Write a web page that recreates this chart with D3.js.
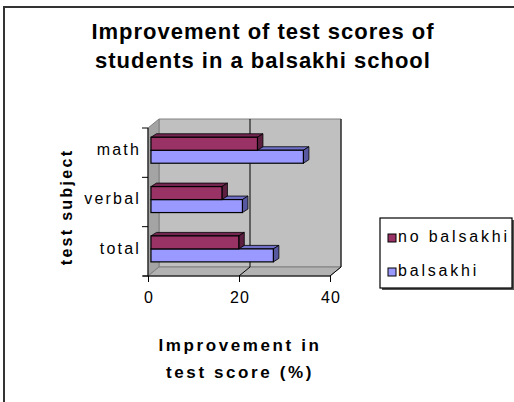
<!DOCTYPE html>
<html>
<head>
<meta charset="utf-8">
<script src="https://cdn.jsdelivr.net/npm/d3@7"></script>
<style>
  body { margin: 0; background: #fff; }
  svg { display: block; font-family: "Liberation Sans", Arial, sans-serif; }
</style>
</head>
<body>
<script>
// data
var categories = ["math", "verbal", "total"];
var seriesNames = ["no balsakhi", "balsakhi"];
var noBalsakhi = [23.4, 15.6, 19.3];
var balsakhi = [33.5, 20.1, 26.9];
var xTicks = [0, 20, 40];
var titleLines = ["Improvement of test scores of", "students in a balsakhi school"];
var xTitleLines = ["Improvement in", "test score (%)"];
var yTitle = "test subject";

var colors = {
  "no balsakhi": { front: "#993366", top: "#732650", side: "#5c1f40" },
  "balsakhi":    { front: "#9999ff", top: "#7070c8", side: "#5858a0" }
};

var W = 514, H = 402;
var svg = d3.select("body").append("svg").attr("width", W).attr("height", H);

// 外枠 (右と下は画面外)
svg.append("rect")
  .attr("x", 4).attr("y", 7).attr("width", 530).attr("height", 420)
  .attr("fill", "none").attr("stroke", "#333").attr("stroke-width", 2);

// scales (front plane)
var x = d3.scaleLinear().domain([0, 40]).range([148, 330]);
var y0 = d3.scaleBand().domain(categories).range([128, 276]);
var y1 = d3.scaleBand().domain(seriesNames).range([0, y0.bandwidth()]).paddingOuter(0.9);

// depth of the 3D box
var DX = 11, DY = -9;

function pts(a){ return a.map(function(p){ return p.join(","); }).join(" "); }

var xl = x(0), xr = x(40), yt = y0.range()[0], yb = y0.range()[1];

// back wall
svg.append("polygon")
  .attr("points", pts([[xl+DX, yt+DY], [xr+DX, yt+DY], [xr+DX, yb+DY], [xl+DX, yb+DY]]))
  .attr("fill", "#c0c0c0").attr("stroke", "#808080");
// left wall
svg.append("polygon")
  .attr("points", pts([[xl, yt], [xl+DX, yt+DY], [xl+DX, yb+DY], [xl, yb]]))
  .attr("fill", "#a4a4a4").attr("stroke", "#808080");
// floor
svg.append("polygon")
  .attr("points", pts([[xl, yb], [xl+DX, yb+DY], [xr+DX, yb+DY], [xr, yb]]))
  .attr("fill", "#b2b2b2").attr("stroke", "#808080");

// gridlines on back wall + floor
xTicks.forEach(function(t){
  if(t === 0) return;
  svg.append("polyline")
    .attr("points", pts([[x(t)+DX, yt+DY], [x(t)+DX, yb+DY], [x(t), yb]]))
    .attr("fill", "none").attr("stroke", "#000").attr("stroke-width", 1);
});

// bars (青を先に描いて、えんじ色の前面で上面を隠す)
var f0 = 0.27, bdx = 5.5, bdy = -3.5;
categories.forEach(function(c, ci){
  var vals = { "no balsakhi": noBalsakhi[ci], "balsakhi": balsakhi[ci] };
  ["balsakhi", "no balsakhi"].forEach(function(s){
    var v = vals[s];
    var xa = x(0) + f0*DX, xb = x(v) + f0*DX;
    var ya = y0(c) + y1(s) + f0*DY, h = y1.bandwidth();
    var g = svg.append("g").attr("class", "bar");
    g.append("polygon")
      .attr("points", pts([[xa, ya], [xb, ya], [xb+bdx, ya+bdy], [xa+bdx, ya+bdy]]))
      .attr("fill", colors[s].top).attr("stroke", "#000").attr("stroke-width", 0.8);
    g.append("polygon")
      .attr("points", pts([[xb, ya], [xb+bdx, ya+bdy], [xb+bdx, ya+h+bdy], [xb, ya+h]]))
      .attr("fill", colors[s].side).attr("stroke", "#000").attr("stroke-width", 0.8);
    g.append("rect")
      .attr("x", xa).attr("y", ya).attr("width", xb - xa).attr("height", h)
      .attr("fill", colors[s].front).attr("stroke", "#000").attr("stroke-width", 1.2);
  });
});

// x axis
var xAxis = svg.append("g").attr("transform", "translate(0," + yb + ")")
  .call(d3.axisBottom(x).tickValues(xTicks).tickSize(6).tickPadding(10).tickFormat(d3.format("d")));
xAxis.select(".domain").attr("stroke", "#000").attr("d", "M" + (xl-5) + ",0H" + xr);
xAxis.selectAll(".tick line").attr("stroke", "#000");
xAxis.selectAll("text").attr("font-size", 16).attr("fill", "#000")
  .attr("letter-spacing", 1).attr("dx", 0.5)
  .attr("font-family", "'Liberation Sans', Arial, sans-serif");

// y axis
svg.append("line").attr("x1", xl).attr("x2", xl).attr("y1", yt).attr("y2", yb).attr("stroke", "#000");
var bounds = categories.map(function(c){ return y0(c); }).concat([yb]);
bounds.forEach(function(b){
  svg.append("line").attr("x1", xl - 6).attr("x2", xl).attr("y1", b).attr("y2", b).attr("stroke", "#000");
});
categories.forEach(function(c){
  svg.append("text")
    .attr("x", 141).attr("y", y0(c) + y0.bandwidth()/2 - 2)
    .attr("text-anchor", "end").attr("dominant-baseline", "middle")
    .attr("font-size", 16).attr("letter-spacing", 2.2)
    .attr("fill", "#000").text(c);
});

// titles
titleLines.forEach(function(t, i){
  svg.append("text")
    .attr("x", 263).attr("y", 39 + i*29)
    .attr("text-anchor", "middle").attr("font-size", 22).attr("font-weight", "bold")
    .attr("letter-spacing", 1)
    .attr("fill", "#000").text(t);
});
xTitleLines.forEach(function(t, i){
  svg.append("text")
    .attr("x", 240).attr("y", 351 + i*27)
    .attr("text-anchor", "middle").attr("font-size", 17).attr("font-weight", "bold")
    .attr("letter-spacing", 2.6)
    .attr("fill", "#000").text(t);
});
svg.append("text")
  .attr("transform", "translate(72,207) rotate(-90)")
  .attr("text-anchor", "middle").attr("font-size", 16).attr("font-weight", "bold")
  .attr("letter-spacing", 2.3)
  .attr("fill", "#000").text(yTitle);

// legend
var lg = svg.append("g");
lg.append("rect").attr("x", 382).attr("y", 220).attr("width", 132).attr("height", 70)
  .attr("fill", "#555");
lg.append("rect").attr("x", 380).attr("y", 218).attr("width", 132).attr("height", 70)
  .attr("fill", "#fff").attr("stroke", "#000").attr("stroke-width", 1.2);
seriesNames.forEach(function(s, i){
  var cy = 238 + i*34;
  lg.append("rect").attr("x", 388).attr("y", cy - 4).attr("width", 8).attr("height", 8)
    .attr("fill", colors[s].front).attr("stroke", "#000");
  lg.append("text").attr("x", 398).attr("y", cy).attr("dominant-baseline", "middle")
    .attr("font-size", 16).attr("letter-spacing", 2.8)
    .attr("fill", "#000").text(s);
});
</script>
</body>
</html>
